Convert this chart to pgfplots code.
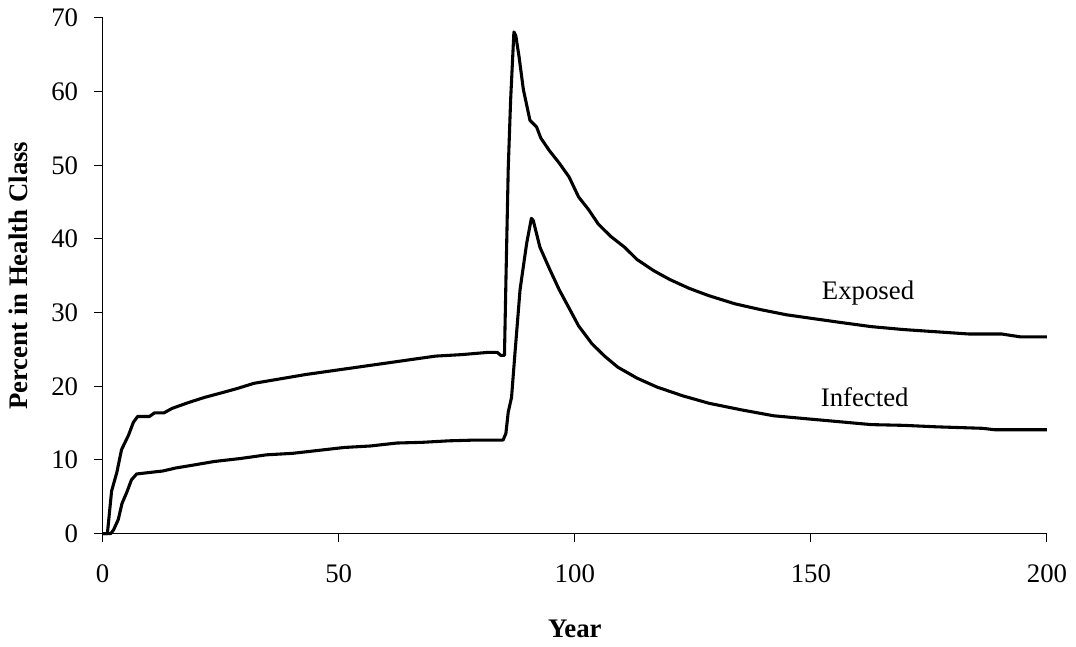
\documentclass[border=0pt]{standalone}
\usepackage{pgfplots}
\pgfplotsset{compat=1.18}
\usepackage{fontspec}
\setmainfont{Liberation Serif}
\begin{document}
\fontsize{20}{24}\selectfont
\begin{tikzpicture}
\begin{axis}[
  scale only axis,
  width=705pt, height=385pt,
  xmin=0, xmax=200, ymin=0, ymax=70,
  axis lines=left,
  axis line style={-, line width=0.75pt},
  xtick={0,50,100,150,200},
  ytick={0,10,...,70},
  tick align=outside,
  major tick length=6.5pt,
  tick style={line width=0.75pt, black},
  /pgf/number format/assume math mode=true,
  ticklabel style={font=\fontsize{20}{24}\selectfont},
  xticklabel style={yshift=-10pt},
  yticklabel style={xshift=-5pt},
  xlabel={\textbf{Year}},
  ylabel={\textbf{Percent in Health Class}},
  label style={font=\fontsize{20}{24}\selectfont},
  xlabel style={yshift=-14pt},
  ylabel style={yshift=4pt},
  clip=false,
]
\addplot[black, line width=2.3pt, line join=round] coordinates {
(0,0)(1.0,0)(1.9,5.8)(3.0,8.3)(4.0,11.4)(5.5,13.4)(6.5,15.1)(7.4,15.9)(9.9,15.9)(11.0,16.4)(13.0,16.4)(14.7,17.0)(18.2,17.8)(21.6,18.5)(25.1,19.1)(28.5,19.7)(32.0,20.4)(37.5,21.0)(43.0,21.6)(48.5,22.1)(54.0,22.6)(59.5,23.1)(65.0,23.6)(70.5,24.1)(76.0,24.3)(81.5,24.6)(83.6,24.6)(84.3,24.2)(85.1,24.2)(85.4,34.0)(85.9,49.6)(86.4,58.8)(87.1,68.1)(87.5,67.6)(88.2,64.7)(89.1,60.3)(90.5,56.1)(91.9,55.2)(92.8,53.7)(94.6,52.0)(96.7,50.3)(98.8,48.4)(100.8,45.7)(102.9,44.0)(105.0,42.0)(107.7,40.3)(110.5,38.9)(113.2,37.2)(116.7,35.7)(120.1,34.5)(124.2,33.3)(128.4,32.3)(133.9,31.2)(139.4,30.4)(144.9,29.7)(150.4,29.2)(155.9,28.7)(162.8,28.1)(169.7,27.7)(176.6,27.4)(183.5,27.1)(190.4,27.1)(194.5,26.7)(200,26.7)
};
\addplot[black, line width=2.3pt, line join=round] coordinates {
(0,0)(1.7,0)(2.3,0.5)(3.3,1.9)(4.1,4.1)(5.1,5.6)(6.1,7.3)(7.2,8.1)(9.9,8.3)(12.7,8.5)(15.4,8.9)(18.2,9.2)(23.7,9.8)(29.2,10.2)(34.7,10.7)(40.2,10.9)(45.7,11.3)(51.2,11.7)(56.7,11.9)(62.3,12.3)(67.8,12.4)(73.3,12.6)(78.8,12.7)(84.8,12.7)(85.4,13.6)(85.9,16.5)(86.6,18.5)(87.3,24.3)(88.4,33.1)(89.8,39.4)(90.8,42.8)(91.2,42.5)(92.6,38.9)(94.6,36.0)(96.7,33.1)(98.8,30.6)(100.8,28.2)(103.6,25.8)(106.3,24.1)(109.1,22.6)(113.2,21.1)(117.4,19.9)(122.9,18.7)(128.4,17.7)(135.3,16.8)(142.1,16.0)(149.0,15.6)(155.9,15.2)(162.8,14.8)(169.7,14.7)(176.6,14.5)(186.3,14.3)(189.0,14.1)(200,14.1)
};
\node[font=\fontsize{20}{24}\selectfont] at (axis cs:162.1,32.6) {Exposed};
\node[font=\fontsize{20}{24}\selectfont] at (axis cs:161.4,18.5) {Infected};
\end{axis}
\end{tikzpicture}
\end{document}
